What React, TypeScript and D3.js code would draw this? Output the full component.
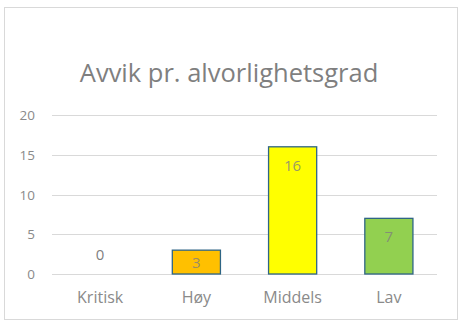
import React from "react";
import * as d3 from "d3";

const categories = ["Kritisk", "Høy", "Middels", "Lav"];
const values = [0, 3, 16, 7];
const barColors = ["#C00000", "#FFC000", "#FFFF00", "#92D050"];
const yTicks = [0, 5, 10, 15, 20];
const title = "Avvik pr. alvorlighetsgrad";

const W = 465;
const H = 324;
const FONT = "'Open Sans', 'Noto Sans', sans-serif";

export default function App() {
  const x = d3.scaleBand<string>().domain(categories).range([52, 437]).paddingInner(0.5).paddingOuter(0.25);
  const y = d3.scaleLinear().domain([0, 20]).range([274, 115]);
  const y0 = y(0);
  return (
    <svg width={W} height={H} style={{ position: "absolute", left: 0, top: 0 }} xmlns="http://www.w3.org/2000/svg">
      <rect x={0} y={0} width={W} height={H} fill="#fff" />
      <rect x={4.5} y={7.5} width={453} height={312} fill="#fff" stroke="#d9d9d9" strokeWidth={1} />
      <text x={229} y={82} textAnchor="middle" fontFamily={FONT} fontSize={25.5} fill="#7f7f7f">{title}</text>
      {yTicks.map((t) => (
        <g key={t}>
          <line x1={52} x2={437} y1={Math.round(y(t)) + 0.5} y2={Math.round(y(t)) + 0.5} stroke="#d9d9d9" strokeWidth={1} />
          <text x={35} y={y(t) + 5} textAnchor="end" fontFamily={FONT} fontSize={13.5} fill="#8a8a8a">{t}</text>
        </g>
      ))}
      {categories.map((c, i) => {
        const v = values[i];
        const bx = x(c)!;
        const bw = x.bandwidth();
        const top = y(v);
        const h = y0 - top;
        let ly: number;
        if (v === 0) ly = y0 - 14;
        else if (h < 30) ly = top + h / 2 + 5.5;
        else ly = top + 24;
        return (
          <g key={c}>
            {v > 0 && (
              <rect x={bx} y={top} width={bw} height={h} fill={barColors[i]} stroke="#2f6585" strokeWidth={1.3} />
            )}
            <text x={bx + bw / 2} y={ly} textAnchor="middle" fontFamily={FONT} fontSize={15} fill="#7f7f7f" fillOpacity={v === 0 ? 1 : 0.8}>{v}</text>
            <text x={bx + bw / 2} y={303} textAnchor="middle" fontFamily={FONT} fontSize={16} fill="#8a8a8a">{c}</text>
          </g>
        );
      })}
    </svg>
  );
}
